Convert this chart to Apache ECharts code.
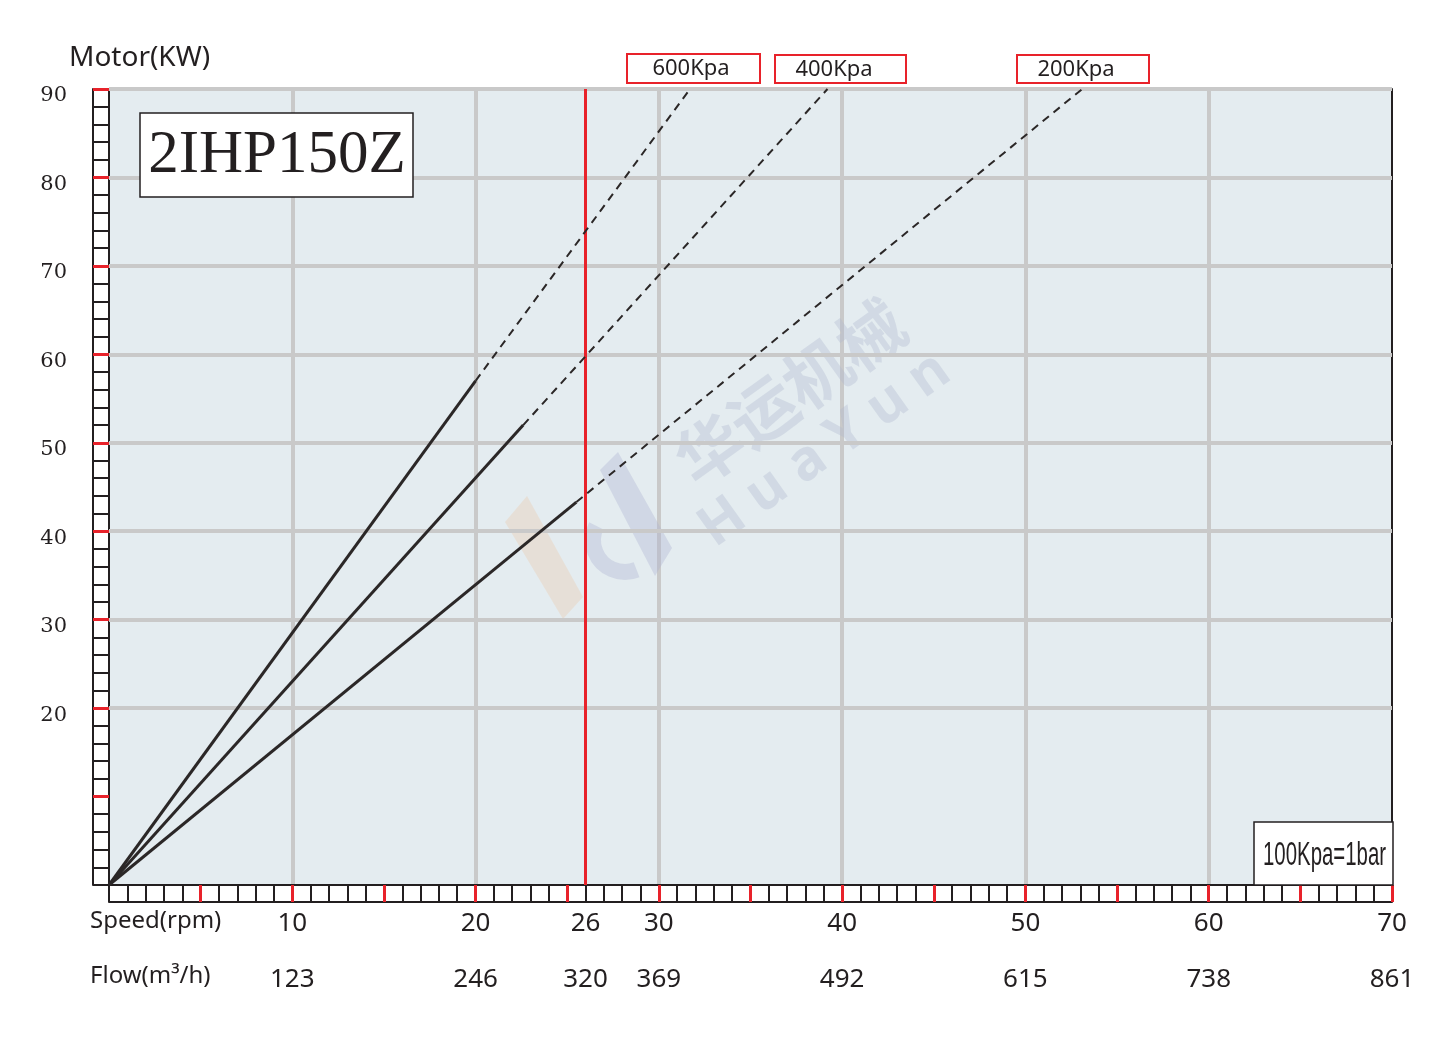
<!DOCTYPE html>
<html>
<head>
<meta charset="utf-8">
<style>
  html, body { margin: 0; padding: 0; background: #ffffff; }
  #chart { width: 1453px; height: 1041px; }
</style>
<script src="https://cdn.jsdelivr.net/npm/echarts@6/dist/echarts.min.js"></script>
</head>
<body>
<div id="chart"></div>
<script>
// ---------------- data ----------------
const speedTicks = [10, 20, 26, 30, 40, 50, 60, 70];
const speedLabels = ['10', '20', '26', '30', '40', '50', '60', '70'];
const flowLabels = ['123', '246', '320', '369', '492', '615', '738', '861'];
const kwLabelValues = [20, 30, 40, 50, 60, 70, 80, 90];
const kwRedTicks = [10, 20, 30, 40, 50, 60, 70, 80, 90];
const speedRedTicks = [5, 10, 15, 20, 25, 30, 35, 40, 45, 50, 55, 60, 65, 70];
const kwGridLines = [20, 30, 40, 50, 60, 70, 80, 90];
const refSpeed = 26;

const p600Solid = [[0, 0], [20, 57]];
const p600Dash = [[20, 57], [31.7, 90]];
const p400Solid = [[0, 0], [22.6, 52]];
const p400Dash = [[22.6, 52], [39.2, 90]];
const p200Solid = [[0, 0], [25.5, 43.3]];
const p200Dash = [[25.5, 43.3], [53.1, 90]];

const legendNames = ['600Kpa', '400Kpa', '200Kpa'];
const chartTitle = '2IHP150Z';
const unitNote = '100Kpa=1bar';

// ---------------- styles ----------------
const RED = '#e8222a';
const BLACK = '#231f20';
const GRAY = '#c9c9c9';
const LINE = '#2b2727';

const chart = echarts.init(document.getElementById('chart'), null, { renderer: 'canvas' });

function solid(data) {
  return {
    type: 'line', data: data, xAxisIndex: 0, yAxisIndex: 0,
    symbol: 'none', silent: true, z: 5,
    lineStyle: { color: LINE, width: 3 }
  };
}
function dashed(data) {
  return {
    type: 'line', data: data, xAxisIndex: 0, yAxisIndex: 0,
    symbol: 'none', silent: true, z: 5,
    lineStyle: { color: LINE, width: 2, type: [8, 6] }
  };
}

const option = {
  animation: false,
  backgroundColor: '#ffffff',
  grid: {
    left: 109, right: 61, top: 89, bottom: 156,
    show: true, backgroundColor: '#e4ecf0', borderWidth: 0
  },
  xAxis: [
    { // black ruler ticks every 1 rpm
      type: 'value', min: 0, max: 70, interval: 1, position: 'bottom',
      axisLine: { show: true, onZero: false, lineStyle: { color: BLACK, width: 2 } },
      axisTick: { show: true, length: 17, lineStyle: { color: BLACK, width: 2 } },
      axisLabel: { show: false }, splitLine: { show: false }
    },
    { // red ticks every 5 rpm + speed labels
      type: 'value', min: 0, max: 70, interval: 5, position: 'bottom',
      axisLine: { show: false, onZero: false },
      axisTick: { show: true, customValues: speedRedTicks, length: 17, lineStyle: { color: RED, width: 3 } },
      axisLabel: {
        show: true, customValues: speedTicks, margin: 26,
        fontFamily: 'Noto Sans', fontSize: 26, color: BLACK,
        formatter: function (v) { const i = speedTicks.indexOf(v); return i >= 0 ? speedLabels[i] : ''; }
      },
      splitLine: { show: false }
    },
    { // outer edge of ruler
      type: 'value', min: 0, max: 70, position: 'bottom', offset: 17,
      axisLine: { show: true, onZero: false, lineStyle: { color: BLACK, width: 2 } },
      axisTick: { show: false }, axisLabel: { show: false }, splitLine: { show: false }
    },
    { // flow labels
      type: 'value', min: 0, max: 70, interval: 5, position: 'bottom',
      axisLine: { show: false, onZero: false }, axisTick: { show: false },
      axisLabel: {
        show: true, customValues: speedTicks, margin: 82,
        fontFamily: 'Noto Sans', fontSize: 26, color: BLACK,
        formatter: function (v) { const i = speedTicks.indexOf(v); return i >= 0 ? flowLabels[i] : ''; }
      },
      splitLine: { show: false }
    },
    { // vertical gridlines
      type: 'value', min: 0, max: 70, interval: 10, position: 'bottom',
      axisLine: { show: false, onZero: false }, axisTick: { show: false }, axisLabel: { show: false },
      splitLine: { show: true, showMinLine: false, showMaxLine: false, lineStyle: { color: GRAY, width: 4 } }
    }
  ],
  yAxis: [
    { // black ladder ticks every 2 kW
      type: 'value', min: 0, max: 90, interval: 2, position: 'left',
      axisLine: { show: true, onZero: false, lineStyle: { color: BLACK, width: 2 } },
      axisTick: { show: true, length: 16, lineStyle: { color: BLACK, width: 2 } },
      axisLabel: { show: false }, splitLine: { show: false }
    },
    { // red ticks every 10 kW + labels
      type: 'value', min: 0, max: 90, interval: 10, position: 'left',
      axisLine: { show: false, onZero: false },
      axisTick: { show: true, customValues: kwRedTicks, length: 16, lineStyle: { color: RED, width: 3 } },
      axisLabel: {
        show: true, customValues: kwLabelValues, margin: 42,
        formatter: function (v) { return '{k|' + v + '}'; },
        rich: {
          k: { fontFamily: 'DejaVu Serif', fontSize: 21, color: BLACK, padding: [14, 0, 0, 0] }
        }
      },
      splitLine: { show: false }
    },
    { // outer edge of ladder
      type: 'value', min: 0, max: 90, position: 'left', offset: 16,
      axisLine: { show: true, onZero: false, lineStyle: { color: BLACK, width: 2 } },
      axisTick: { show: false }, axisLabel: { show: false }, splitLine: { show: false }
    },
    { // right border
      type: 'value', min: 0, max: 90, position: 'right',
      axisLine: { show: true, onZero: false, lineStyle: { color: BLACK, width: 2 } },
      axisTick: { show: false }, axisLabel: { show: false }, splitLine: { show: false }
    }
  ],
  series: [
    { // horizontal gridlines
      type: 'line', data: [], xAxisIndex: 0, yAxisIndex: 0, z: 1, silent: true,
      markLine: {
        silent: true, symbol: ['none', 'none'], label: { show: false }, animation: false,
        lineStyle: { color: GRAY, width: 4, type: 'solid' },
        data: kwGridLines.map(v => ({ yAxis: v }))
      }
    },
    solid(p600Solid), dashed(p600Dash),
    solid(p400Solid), dashed(p400Dash),
    solid(p200Solid), dashed(p200Dash),
    { // red reference speed line
      type: 'line', data: [], xAxisIndex: 0, yAxisIndex: 0, z: 6, silent: true,
      markLine: {
        silent: true, symbol: ['none', 'none'], label: { show: false }, animation: false,
        lineStyle: { color: RED, width: 3, type: 'solid' },
        data: [{ xAxis: refSpeed }]
      }
    }
  ],
  graphic: [
    // watermark logo
    { type: 'polygon', z: 1, silent: true,
      shape: { points: [[505, 522], [527, 496], [583, 597], [563, 619]] },
      style: { fill: 'rgba(236,200,168,0.35)' } },
    { type: 'polygon', z: 1, silent: true,
      shape: { points: [[600, 470], [618, 452], [672, 548], [655, 576]] },
      style: { fill: 'rgba(175,182,210,0.38)' } },
    { type: 'arc', z: 1, silent: true,
      shape: { cx: 625, cy: 540, r: 32, startAngle: 1.2, endAngle: 3.6 },
      style: { stroke: 'rgba(175,182,210,0.38)', lineWidth: 16, fill: 'none' } },
    // watermark text
    { type: 'text', z: 1, silent: true, x: 790, y: 392, rotation: 0.62,
      style: { text: '华运机械', font: 'bold 66px "Noto Sans CJK SC"', fill: 'rgba(175,182,205,0.35)', align: 'center', verticalAlign: 'middle' } },
    { type: 'text', z: 1, silent: true, x: 825, y: 450, rotation: 0.62,
      style: { text: 'H u a Y u n', font: 'bold 56px "Noto Sans"', fill: 'rgba(175,182,205,0.35)', align: 'center', verticalAlign: 'middle' } },
    // axis names
    { type: 'text', x: 69, y: 58,
      style: { text: 'Motor(KW)', font: '28px "Noto Sans"', fill: BLACK, align: 'left', verticalAlign: 'middle' } },
    { type: 'text', x: 90, y: 921,
      style: { text: 'Speed(rpm)', font: '24px "Noto Sans"', fill: BLACK, align: 'left', verticalAlign: 'middle' } },
    { type: 'text', x: 90, y: 976,
      style: { text: 'Flow(m³/h)', font: '24px "Noto Sans"', fill: BLACK, align: 'left', verticalAlign: 'middle' } },
    // title box
    { type: 'rect', z: 10, shape: { x: 140, y: 113, width: 273, height: 84 },
      style: { fill: '#ffffff', stroke: BLACK, lineWidth: 1.5 } },
    { type: 'text', z: 11, x: 277, y: 156,
      style: { text: chartTitle, font: '61px "Liberation Serif"', fill: BLACK, align: 'center', verticalAlign: 'middle' } },
    // legend boxes
    { type: 'rect', z: 10, shape: { x: 627, y: 54, width: 133, height: 29 },
      style: { fill: '#ffffff', stroke: RED, lineWidth: 2 } },
    { type: 'text', z: 11, x: 691, y: 69,
      style: { text: legendNames[0], font: '22px "Noto Sans"', fill: BLACK, align: 'center', verticalAlign: 'middle' } },
    { type: 'rect', z: 10, shape: { x: 775, y: 55, width: 131, height: 28 },
      style: { fill: '#ffffff', stroke: RED, lineWidth: 2 } },
    { type: 'text', z: 11, x: 834, y: 70,
      style: { text: legendNames[1], font: '22px "Noto Sans"', fill: BLACK, align: 'center', verticalAlign: 'middle' } },
    { type: 'rect', z: 10, shape: { x: 1017, y: 55, width: 132, height: 28 },
      style: { fill: '#ffffff', stroke: RED, lineWidth: 2 } },
    { type: 'text', z: 11, x: 1076, y: 70,
      style: { text: legendNames[2], font: '22px "Noto Sans"', fill: BLACK, align: 'center', verticalAlign: 'middle' } },
    // unit note box
    { type: 'rect', z: 10, shape: { x: 1254, y: 822, width: 139, height: 63 },
      style: { fill: '#ffffff', stroke: BLACK, lineWidth: 1.5 } },
    { type: 'text', z: 11, x: 1263, y: 856, scaleX: 0.6,
      style: { text: unitNote, font: '34px "Liberation Sans"', fill: BLACK, align: 'left', verticalAlign: 'middle' } }
  ]
};

chart.setOption(option);
</script>
</body>
</html>
